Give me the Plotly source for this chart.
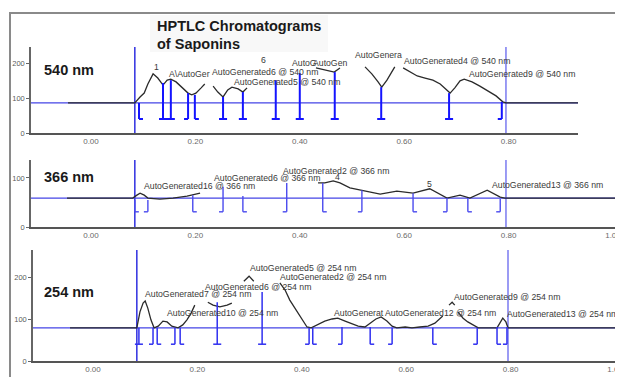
import plotly.graph_objects as go

# ---------------- data ----------------
# 540 nm densitogram (Rf, intensity); None = part hidden behind peak labels
rf_540 = [-0.044, 0.084, 0.094, 0.102, 0.109, 0.119, 0.128, 0.138, 0.146, 0.153, 0.163, 0.174, 0.186, 0.193,
          0.201, 0.211, 0.218, None, 0.234, 0.243, 0.253, 0.262, 0.270, 0.282, 0.291, 0.299, None,
          0.431, 0.448, 0.466, 0.477, None, 0.525, 0.538, 0.550, 0.557, 0.567, 0.577, 0.582, None,
          0.598, 0.611, 0.625, 0.640, 0.655, 0.669, 0.680, 0.688, 0.697, 0.707, 0.715, 0.730, 0.745,
          0.761, 0.776, 0.789, 0.795, 0.933]
int_540 = [86, 86, 103, 114, 140, 169, 157, 137, 151, 154, 146, 131, 114, 109,
           114, 129, 140, None, 134, 117, 103, 123, 131, 126, 117, 129, None,
           186, 180, 174, 186, None, 189, 169, 146, 131, 151, 177, 189, None,
           186, 174, 163, 157, 151, 140, 126, 114, 129, 149, 154, 146, 134,
           120, 106, 89, 86, 86]

rf_366 = [-0.046, 0.080, 0.088, 0.094, 0.102, 0.109, 0.132, 0.157, 0.184, 0.209, None,
          0.435, 0.448, 0.464, 0.477, 0.496, 0.521, 0.554, 0.586, 0.617, 0.649, 0.682, 0.707,
          0.726, 0.759, 0.784, 0.793, 1.019]
int_366 = [59, 59, 65, 69, 65, 59, 57, 59, 63, 69, None,
           90, 90, 94, 90, 80, 75, 67, 73, 69, 78, 59, 65,
           59, 75, 61, 59, 59]

rf_254 = [-0.044, 0.084, 0.090, 0.096, 0.100, 0.105, 0.111, 0.117, 0.125, 0.134, 0.142, 0.151, 0.163,
          0.172, 0.180, 0.188, 0.195, None, 0.220, 0.230, 0.243, 0.257, 0.266, None,
          0.289, 0.299, 0.308, None,
          0.358, 0.368, 0.377, 0.389, 0.400, 0.410, 0.418, 0.429, 0.444, 0.458, 0.469, 0.483, 0.496,
          0.508, 0.521, 0.531, 0.542, 0.552, 0.563, 0.573, 0.582, 0.598, 0.611, 0.626, 0.642, 0.655,
          0.665, 0.670, None, 0.682, 0.688, 0.693, None,
          0.699, 0.709, 0.718, 0.728, 0.738, 0.774, 0.780, 0.785, 0.791, 0.795, 1.015]
int_254 = [79, 79, 117, 138, 143, 126, 98, 79, 83, 95, 93, 83, 79,
           86, 98, 114, 133, None, 140, 133, 129, 133, 138, None,
           190, 202, 190, None,
           186, 169, 145, 121, 98, 81, 79, 86, 95, 100, 102, 95, 88,
           83, 81, 90, 100, 105, 95, 83, 79, 81, 79, 81, 83, 90,
           100, 107, None, 133, 140, 133, None,
           117, 102, 93, 86, 79, 79, 93, 102, 93, 79, 79]

# baselines and application / solvent-front positions
baseline_540, baseline_366, baseline_254 = 86, 59, 79
track_start, track_front = 0.084, 0.795

# integration markers: Rf, top intensity, kind ('I' full foot, '[' foot right, ']' foot left)
pk_rf_540 = [0.092, 0.138, 0.153, 0.186, 0.199, 0.253, 0.291, 0.354, 0.400, 0.467, 0.556, 0.686, 0.787]
pk_top_540 = [86, 143, 151, 114, 109, 103, 117, 151, 171, 174, 131, 114, 89]
pk_kind_540 = ['[', 'I', 'I', ']', '[', 'I', 'I', 'I', 'I', 'I', 'I', 'I', ']']
pk_floor_540 = 40

pk_rf_366 = [0.084, 0.109, 0.195, 0.253, 0.291, 0.375, 0.444, 0.519, 0.617, 0.682, 0.722, 0.784]
pk_top_366 = [55, 55, 65, 82, 63, 90, 90, 75, 69, 59, 59, 57]
pk_kind_366 = ['[', ']', '[', ']', '[', ']', '[', ']', '[', ']', '[', ']']
pk_floor_366 = 31

pk_rf_254 = [0.088, 0.115, 0.123, 0.157, 0.167, 0.238, 0.324, 0.414, 0.421, 0.477, 0.531, 0.573,
             0.651, 0.736, 0.774, 0.793]
pk_top_254 = [79, 79, 79, 79, 79, 140, 164, 79, 79, 81, 81, 79, 79, 79, 81, 81]
pk_kind_254 = ['I', ']', '[', ']', '[', 'I', 'I', ']', '[', ']', '[', ']', '[', ']', '[', ']']
pk_floor_254 = 40

# peak labels
lab_txt_540 = ['1', 'A\\AutoGer', 'AutoGenerated6 @ 540 nm', '6', 'AutoGenerated5 @ 540 nm', 'AutoG',
               'AutoGen', 'AutoGenera', 'AutoGenerated4 @ 540 nm', 'AutoGenerated9 @ 540 nm']
lab_rf_540 = [0.125, 0.146, 0.228, 0.330, 0.270, 0.381, 0.421, 0.502, 0.596, 0.720]
lab_int_540 = [189, 169, 174, 209, 146, 200, 200, 223, 206, 169]

lab_txt_366 = ['AutoGenerated16 @ 366 nm', 'AutoGenerated6 @ 366 nm', 'AutoGenerated2 @ 366 nm', '4', '5',
               'AutoGenerated13 @ 366 nm']
lab_rf_366 = [0.098, 0.232, 0.364, 0.473, 0.649, 0.764]
lab_int_366 = [84, 100, 114, 102, 88, 86]

lab_txt_254 = ['AutoGenerated7 @ 254 nm', 'AutoGenerated10 @ 254 nm', 'AutoGenerated6 @ 254 nm',
               'AutoGenerated5 @ 254 nm', 'AutoGenerated2 @ 254 nm', 'AutoGenerat',
               'AutoGenerated12 @ 254 nm', 'AutoGenerated9 @ 254 nm', 'AutoGenerated13 @ 254 nm']
lab_rf_254 = [0.096, 0.138, 0.211, 0.297, 0.354, 0.458, 0.556, 0.688, 0.789]
lab_int_254 = [160, 114, 176, 221, 200, 114, 114, 152, 112]

x_ticks_540 = [0.0, 0.2, 0.4, 0.6, 0.8]
x_ticks_full = [0.0, 0.2, 0.4, 0.6, 0.8, 1.0]
y_ticks_540 = [0, 100, 200]
y_ticks_366 = [0, 100]
y_ticks_254 = [0, 100, 200]
panel_names = ['540 nm', '366 nm', '254 nm']

# ---------------- figure ----------------
W, H = 623, 377
OFF = 8  # page body margin
FONT = 'Liberation Sans, Arial, sans-serif'
CURVE = '#2b2b2b'
FOOT = 0.0077

def px(v):
    return (v - OFF) / W

def py(v):
    return 1 - (v - OFF) / H

def marker_xy(xs, tops, kinds, floor):
    X, Y = [], []
    for x, t, k in zip(xs, tops, kinds):
        X += [x, x, None]
        Y += [t, floor, None]
        if k == 'I':
            X += [x - FOOT, x + FOOT, None]
        elif k == '[':
            X += [x, x + FOOT, None]
        else:
            X += [x - FOOT, x, None]
        Y += [floor, floor, None]
    return X, Y

fig = go.Figure()

panels = [
    dict(rf=rf_540, it=int_540, base=baseline_540, prf=pk_rf_540, ptop=pk_top_540, pkind=pk_kind_540,
         pfloor=pk_floor_540, lt=lab_txt_540, lx=lab_rf_540, ly=lab_int_540,
         xdom=[px(31), px(578)], ydom=[py(133), py(47)], xr=[-0.1149, 0.9330], yr=[0, 245.7],
         xt=x_ticks_540, yt=y_ticks_540, mcol='#1414ff', mw=2.0, name_y=70),
    dict(rf=rf_366, it=int_366, base=baseline_366, prf=pk_rf_366, ptop=pk_top_366, pkind=pk_kind_366,
         pfloor=pk_floor_366, lt=lab_txt_366, lx=lab_rf_366, ly=lab_int_366,
         xdom=[px(31), px(623)], ydom=[py(227), py(160)], xr=[-0.1149, 1.0192], yr=[0, 136.7],
         xt=x_ticks_full, yt=y_ticks_366, mcol='#4a4aee', mw=1.4, name_y=177),
    dict(rf=rf_254, it=int_254, base=baseline_254, prf=pk_rf_254, ptop=pk_top_254, pkind=pk_kind_254,
         pfloor=pk_floor_254, lt=lab_txt_254, lx=lab_rf_254, ly=lab_int_254,
         xdom=[px(33), px(623)], ydom=[py(361), py(250)], xr=[-0.1149, 1.0153], yr=[0, 264.3],
         xt=x_ticks_full, yt=y_ticks_254, mcol='#3030f0', mw=1.5, name_y=292),
]

shapes = []
annotations = []
layout_axes = {}

for i, p in enumerate(panels, start=1):
    xa = 'x' if i == 1 else f'x{i}'
    ya = 'y' if i == 1 else f'y{i}'
    fig.add_trace(go.Scatter(x=p['rf'], y=p['it'], mode='lines', xaxis=xa, yaxis=ya,
                             line=dict(color=CURVE, width=1.3), connectgaps=False,
                             hoverinfo='skip', showlegend=False))
    mx, my = marker_xy(p['prf'], p['ptop'], p['pkind'], p['pfloor'])
    fig.add_trace(go.Scatter(x=mx, y=my, mode='lines', xaxis=xa, yaxis=ya,
                             line=dict(color=p['mcol'], width=p['mw']), connectgaps=False,
                             hoverinfo='skip', showlegend=False))
    # baseline
    shapes.append(dict(type='line', xref=xa, yref=ya, x0=p['xr'][0], x1=p['xr'][1],
                       y0=p['base'], y1=p['base'], line=dict(color='#4545e6', width=1.2), layer='below'))
    # start / front lines
    shapes.append(dict(type='line', xref=xa, yref=f'{ya} domain', x0=track_start, x1=track_start,
                       y0=0, y1=1, line=dict(color='#2f2fe0', width=1.5), layer='below'))
    shapes.append(dict(type='line', xref=xa, yref=f'{ya} domain', x0=track_front, x1=track_front,
                       y0=0, y1=1, line=dict(color='#7a7af0', width=1.5), layer='below'))
    for t, x, y in zip(p['lt'], p['lx'], p['ly']):
        single = len(t) == 1
        annotations.append(dict(text=t, x=x, y=y, xref=xa, yref=ya, showarrow=False,
                                xanchor='center' if single else 'left', yanchor='middle',
                                font=dict(family=FONT, size=8.7, color='#3a3a3a')))
    annotations.append(dict(text=f'<b>{panel_names[i-1]}</b>', x=px(42), xref='paper',
                            y=py(p['name_y']), yref='paper', showarrow=False,
                            xanchor='left', yanchor='middle',
                            font=dict(family=FONT, size=14.5, color='#1a1a1a')))
    layout_axes['xaxis' if i == 1 else f'xaxis{i}'] = dict(
        domain=p['xdom'], range=p['xr'], anchor=ya, showgrid=False, zeroline=False,
        showline=True, linecolor='#555555', linewidth=1.5, ticks='', automargin=False,
        tickvals=p['xt'], ticktext=[f'{v:.2f}' for v in p['xt']],
        tickfont=dict(family=FONT, size=8, color='#6a6a6a'), fixedrange=True)
    layout_axes['yaxis' if i == 1 else f'yaxis{i}'] = dict(
        domain=p['ydom'], range=p['yr'], anchor=xa, showgrid=False, zeroline=False,
        showline=True, linecolor='#666666', linewidth=1.5, ticks='outside', ticklen=3,
        tickcolor='#666666', tickvals=p['yt'], automargin=False,
        tickfont=dict(family=FONT, size=7.5, color='#5a5a5a'), fixedrange=True)

# outer frame and title box
shapes.append(dict(type='rect', xref='paper', yref='paper', x0=px(10), x1=1.05, y0=-0.05, y1=py(13),
                   line=dict(color='#8a8a8a', width=2), fillcolor='rgba(0,0,0,0)', layer='above'))
shapes.append(dict(type='rect', xref='paper', yref='paper', x0=px(150), x1=px(328), y0=py(52), y1=py(15),
                   line=dict(width=0), fillcolor='#f8f8f8', layer='below'))

annotations.append(dict(text='<b>HPTLC Chromatograms</b>', x=px(155), y=py(26), xref='paper', yref='paper',
                        showarrow=False, xanchor='left', yanchor='middle',
                        font=dict(family=FONT, size=14.5, color='#1a1a1a')))
annotations.append(dict(text='<b>of Saponins</b>', x=px(155), y=py(44), xref='paper', yref='paper',
                        showarrow=False, xanchor='left', yanchor='middle',
                        font=dict(family=FONT, size=14.5, color='#1a1a1a')))

fig.update_layout(width=W, height=H, margin=dict(l=0, r=0, t=0, b=0, autoexpand=False),
                  paper_bgcolor='white', plot_bgcolor='rgba(0,0,0,0)',
                  shapes=shapes, annotations=annotations, showlegend=False,
                  font=dict(family=FONT), **layout_axes)

fig.write_html('out.html', config={'displayModeBar': False})
